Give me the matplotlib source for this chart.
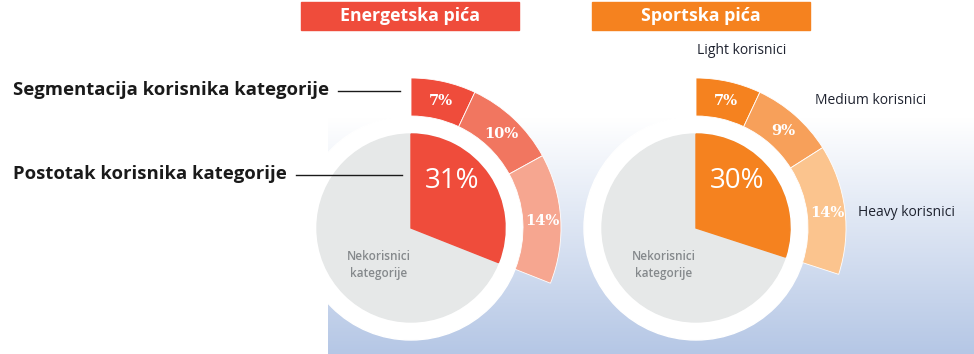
import numpy as np
import matplotlib.pyplot as plt
from matplotlib.patches import Wedge, Circle, Rectangle

# -----------------------------
# Data
# -----------------------------
TITLES = ["Energetska pića", "Sportska pića"]
USERS_PCT = [31, 30]                       # share of category users
SEGMENTS = [[7, 10, 14], [7, 9, 14]]       # light / medium / heavy
SEG_NAMES = ["Light korisnici", "Medium korisnici", "Heavy korisnici"]
NONUSER_LABEL = "Nekorisnici\nkategorije"
LEFT_LABELS = ["Segmentacija korisnika kategorije", "Postotak korisnika kategorije"]

# -----------------------------
# Style
# -----------------------------
W, H = 974, 354
MAIN_COLORS = ["#ef4c3b", "#f5821f"]
SEG_COLORS = [["#ef4c3b", "#f17660", "#f6a690"],
              ["#f5821f", "#f7a05a", "#fbc48e"]]
CENTERS = [(411, 126), (696, 126)]
BOX_X = [301, 592]
R_PIE, R_WHITE, R_OUT = 94, 112, 150
GREY = "#e6e8e8"
FONT = "Open Sans"

fig = plt.figure(figsize=(W / 100, H / 100), dpi=100)
ax = fig.add_axes([0, 0, 1, 1])
ax.set_xlim(0, W)
ax.set_ylim(0, H)
ax.set_aspect("equal")
ax.axis("off")

# background gradient (white -> light blue)
grad = np.linspace(0, 1, 256)[:, None]
top = np.array([1.0, 1.0, 1.0])
bot = np.array([0.71, 0.78, 0.90])
img = top + (bot - top) * grad[..., None]
img = np.repeat(img, 2, axis=1)
ax.imshow(img, extent=[328, W, 0, 236], aspect="auto", zorder=0, origin="upper")

for i, c in enumerate(CENTERS):
    p = USERS_PCT[i]
    # white ring + grey non-user disc
    ax.add_patch(Circle(c, R_WHITE, color="white", zorder=1))
    ax.add_patch(Circle(c, R_PIE, color=GREY, zorder=2))
    ax.add_patch(Wedge(c, R_PIE, 90 - 3.6 * p, 90, color=MAIN_COLORS[i], zorder=3))

    # outer segmented ring, spans the same angle as the users wedge
    total = sum(SEGMENTS[i])
    span = 3.6 * p
    start = 90
    for j, s in enumerate(SEGMENTS[i]):
        ang = span * s / total
        ax.add_patch(Wedge(c, R_OUT, start - ang, start, width=R_OUT - R_WHITE,
                           facecolor=SEG_COLORS[i][j], edgecolor="white", lw=0.6, zorder=3))
        mid = np.deg2rad(start - ang / 2)
        rm = (R_OUT + R_WHITE) / 2
        ax.text(c[0] + rm * np.cos(mid) + 1, c[1] + rm * np.sin(mid) - 1, f"{s}%",
                color="white", fontsize=10.5, fontweight="bold", family="DejaVu Serif",
                ha="center", va="center", zorder=4)
        start -= ang

    # big percent in the wedge
    ax.text(c[0] + 41, c[1] + 47, f"{p}%", color="white", fontsize=20,
            family=FONT, ha="center", va="center", zorder=4)
    ax.text(c[0] - 32, c[1] - 37, NONUSER_LABEL, color="#85898c", fontsize=8.5,
            family=FONT, fontweight="semibold", ha="center", va="center",
            linespacing=1.5, zorder=4)

    # title box
    bx = BOX_X[i]
    ax.add_patch(Rectangle((bx, H - 30), 218, 28, color=MAIN_COLORS[i], zorder=2))
    ax.text(bx + 109, H - 16, TITLES[i], color="white", fontsize=12.8,
            family=FONT, fontweight="bold", ha="center", va="center", zorder=3)

# left-side explanatory labels
ax.text(13, H - 90, LEFT_LABELS[0], fontsize=13.3, family=FONT, fontweight="bold",
        color="#1a1a1a", ha="left", va="center")
ax.plot([338, 400], [H - 91, H - 91], color="#1a1a1a", lw=1)
ax.text(13, H - 174, LEFT_LABELS[1], fontsize=13.3, family=FONT, fontweight="bold",
        color="#1a1a1a", ha="left", va="center")
ax.plot([296, 402], [H - 175, H - 175], color="#1a1a1a", lw=1)

# segment names (right chart)
seg_pos = [(697, H - 50), (815, H - 100), (858, H - 212)]
for name, (x, y) in zip(SEG_NAMES, seg_pos):
    ax.text(x, y, name, fontsize=10, family=FONT, color="#1f2330", ha="left", va="center")

fig.savefig("out.png", dpi=100)
